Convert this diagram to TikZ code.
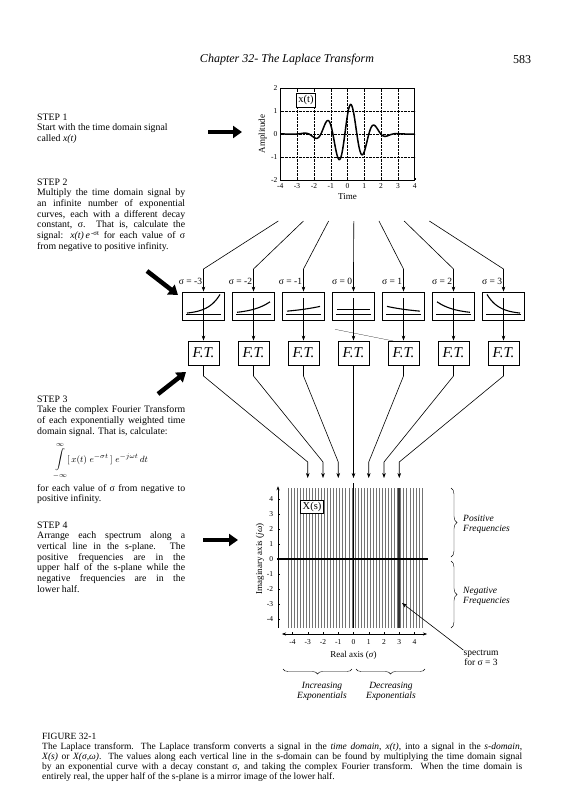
\documentclass[tikz,border=0pt]{standalone}
\usepackage{fontspec}
\setmainfont{Liberation Serif}
\usetikzlibrary{arrows.meta,decorations.pathreplacing}

\newcommand{\jline}[2]{\makebox[#1][s]{#2}}

\tikzset{
  steptext/.style={anchor=north west, align=left, inner sep=0pt, font=\fontsize{9.8}{10.7}\selectfont},
  captext/.style={anchor=north west, align=left, inner sep=0pt, font=\fontsize{9.5}{10}\selectfont},
  bigarrow/.style={line width=4.5pt, -{Triangle[length=9pt,width=12pt]}},
  feed/.style={semithick, -{Stealth[length=5pt,width=3.6pt]}},
  expbox/.style={draw, semithick, minimum width=41.5pt, minimum height=28.3pt, inner sep=0pt},
  ftbox/.style={draw, semithick, minimum width=31pt, minimum height=24.3pt, inner sep=0pt, font=\itshape\fontsize{15}{15}\selectfont},
  siglabel/.style={anchor=east, inner sep=1.2pt, font=\fontsize{9.5}{10}\selectfont},
  ticklbl/.style={inner sep=1pt, font=\fontsize{7.5}{8}\selectfont},
  axislbl/.style={inner sep=0pt, font=\fontsize{9}{10}\selectfont},
  sidelbl/.style={inner sep=0pt, align=left, font=\itshape\fontsize{9.5}{10}\selectfont},
  intlimit/.style={inner sep=0pt, font=\fontsize{7}{7}\selectfont},
  spectrum/.style={black!55, line width=0.8pt},
}

\begin{document}
\begin{tikzpicture}[x=1pt, y=-1pt]
  \useasboundingbox (0,0) rectangle (564,800);
  \fill[white] (0,0) rectangle (564,800);

  % Running head
  \node[font=\itshape\fontsize{12}{12}\selectfont] (runhead) at (287,60) {Chapter 32- The Laplace Transform};
  \node[font=\fontsize{12}{12}\selectfont] (pagenum) at (522,60) {583};

  % Step texts
  \node[steptext] (step1) at (37,113.5) {STEP 1\\Start with the time domain signal\\called \textit{x(t)}};
  \node[steptext] (step2) at (37,178.5) {STEP 2\\
    \jline{148pt}{Multiply the time domain signal by}\\
    \jline{148pt}{an infinite number of exponential}\\
    \jline{148pt}{curves, each with a different decay}\\
    \jline{148pt}{constant, σ. That is, calculate the}\\
    \jline{148pt}{signal: \textit{x(t)\,e}\textsuperscript{\,-σt} for each value of σ}\\
    from negative to positive infinity.};
  \node[steptext] (step3) at (37,395.5) {STEP 3\\
    \jline{148pt}{Take the complex Fourier Transform}\\
    \jline{148pt}{of each exponentially weighted time}\\
    domain signal. That is, calculate:};
  % Fourier integral, sign and limits set apart
  \node[inner sep=0pt, font=\fontsize{10.5}{12}\selectfont] (intsign) at (60,460) {$\displaystyle\int$};
  \node[intlimit] (uplim) at (60,445) {$\infty$};
  \node[intlimit] (lolim) at (60,475.5) {$-\infty$};
  \node[anchor=west, inner sep=0pt, font=\fontsize{9.5}{11}\selectfont] (integrand) at (67,459)
    {$[\,x(t)\; e^{-\sigma t}\,]\; e^{-j\omega t}\,dt$};
  \node[steptext] (step3b) at (37,484) {\jline{148pt}{for each value of σ from negative to}\\
    positive infinity.};
  \node[steptext] (step4) at (37,521.5) {STEP 4\\
    \jline{148pt}{Arrange each spectrum along a}\\
    \jline{148pt}{vertical line in the s-plane. The}\\
    \jline{148pt}{positive frequencies are in the}\\
    \jline{148pt}{upper half of the s-plane while the}\\
    \jline{148pt}{negative frequencies are in the}\\
    lower half.};

  % Pointer arrows from the text
  \coordinate (s1tail) at (208,132);
  \coordinate (s1head) at (242,132);
  \coordinate (s2tail) at (147,271);
  \coordinate (s2head) at (178,295);
  \coordinate (s3tail) at (158,394);
  \coordinate (s3head) at (186,372);
  \coordinate (s4tail) at (203,540);
  \coordinate (s4head) at (238,540);
  \draw[bigarrow] (s1tail) -- (s1head);
  \draw[bigarrow] (s2tail) -- (s2head);
  \draw[bigarrow] (s3tail) -- (s3head);
  \draw[bigarrow] (s4tail) -- (s4head);

  % Time domain signal x(t)
  \begin{scope}[shift={(347.5,134)}, x=16.8pt, y=23pt]
    \foreach \tm in {-3,...,3}
      \draw[densely dotted] (\tm,-2) -- (\tm,2);
    \foreach \amp in {-1,0,1}
      \draw[densely dotted] (-4,\amp) -- (4,\amp);
    \draw[semithick] (-4,-2) rectangle (4,2);
    \foreach \tm in {-4,...,4} {
      \draw (\tm,-2) -- (\tm,-1.9);
      \node[ticklbl, anchor=north] at (\tm,-2.1) {\tm};
    }
    \foreach \amp in {-2,...,2} {
      \draw (-4,\amp) -- (-3.85,\amp);
      \node[ticklbl, anchor=east] at (-4.1,\amp) {\amp};
    }
    \draw[line width=1.5pt, domain=-4:4, samples=200]
      plot (\x, {1.3*exp(-((\x-0.05)/1.4)*((\x-0.05)/1.4))*cos(deg(4.4*(\x-0.2)))});
    \node[draw, fill=white, inner sep=2pt, font=\fontsize{10.5}{11}\selectfont] (xtbox) at (-2.47,1.47) {x(t)};
    \node[axislbl, rotate=90] (amplbl) at (-5.05,0) {Amplitude};
    \node[axislbl] (timelbl) at (0,-2.7) {Time};
  \end{scope}

  % Exponential weights and Fourier transforms
  \foreach \i in {0,...,6} {
    \pgfmathtruncatemacro\sg{\i-3}
    \pgfmathsetmacro\cx{203.5+50*\i}
    \pgfmathsetmacro\kk{-0.46*\sg}
    \coordinate (fantop\i) at (278.3+25.17*\i,221);
    \coordinate (fanknee\i) at (\cx,269);
    \node[expbox] (eb\i) at (\cx,306) {};
    \node[ftbox] (ftb\i) at (\cx,353) {F.T.};
    \node[siglabel] (sig\i) at (\cx,281) {σ = \sg};
    \draw[feed] (fantop\i) -- (fanknee\i) -- (eb\i.north);
    \draw[feed] (eb\i.south) -- (ftb\i.north);
    \draw[thin] (\cx-17.5,314.3) -- (\cx+17.5,314.3);
    \draw[thin] (\cx,298) -- (\cx,319.5);
    \draw[line width=1.1pt, domain=-1:1, samples=25]
      plot ({\cx+16.5*\x},{314.3-5*exp(\kk*\x)});
  }
  \coordinate (straystart) at (335,329.3);
  \coordinate (strayend) at (393.3,341);
  \draw[very thin] (straystart) -- (strayend);

  % Spectra into the s-plane
  \foreach \i in {0,...,6} {
    \pgfmathsetmacro\cx{203.5+50*\i}
    \pgfmathsetmacro\px{353.5+15.25*(\i-3)}
    \coordinate (lowknee\i) at (\cx,376);
    \coordinate (spknee\i) at (\px,462);
    \coordinate (sptip\i) at (\px,478);
    \draw[feed] (ftb\i.south) -- (lowknee\i) -- (spknee\i) -- (sptip\i);
  }

  % s-plane X(s)
  \begin{scope}[shift={(353.5,559)}, x=15.25pt, y=15pt]
    \foreach \kk in {0,...,44}
      \draw[spectrum] (-4.3+0.2*\kk,-4.6) -- (-4.3+0.2*\kk,4.73);
    \draw[line width=2.4pt, black!80] (3,-4.6) -- (3,4.73);
    \draw[line width=1.2pt] (0,-4.6) -- (0,5.1);
    \draw[line width=1.3pt] (-5.02,0) -- (4.89,0);
    \draw[-{Stealth[length=4pt,width=3pt]}] (-4.95,-4.6) -- (-4.95,4.85);
    \foreach \w in {-4,...,4} {
      \draw (-4.95,\w) -- (-4.8,\w);
      \node[ticklbl, anchor=east] at (-5.2,\w) {\w};
    }
    \draw[{Stealth[length=4pt,width=3pt]}-{Stealth[length=4pt,width=3pt]}] (-4.69,-5) -- (4.82,-5);
    \foreach \sg in {-4,...,4} {
      \draw (\sg,-5) -- (\sg,-4.85);
      \node[ticklbl, anchor=north] at (\sg,-5.3) {\sg};
    }
    \node[draw, fill=white, inner sep=2pt, font=\fontsize{10.5}{11}\selectfont] (xsbox) at (-2.72,3.49) {X(s)};
    \node[axislbl, rotate=90] (imlbl) at (-6.13,0) {Imaginary axis (\textit{jω})};
    \node[axislbl] (relbl) at (0,-6.4) {Real axis (\textit{σ})};
  \end{scope}

  % Frequency halves
  \draw[decorate, decoration={brace, amplitude=6pt}] (451,488) -- (451,557);
  \draw[decorate, decoration={brace, amplitude=6pt}] (451,561) -- (451,628);
  \node[sidelbl, anchor=west] (posfreq) at (463,524) {Positive\\Frequencies};
  \node[sidelbl, anchor=west] (negfreq) at (463,596) {Negative\\Frequencies};

  % Exponential types
  \draw[decorate, decoration={brace, amplitude=5pt}] (352,669) -- (283,669);
  \draw[decorate, decoration={brace, amplitude=5pt}] (425,669) -- (356,669);
  \node[sidelbl, align=center] (incexp) at (322,691) {Increasing\\Exponentials};
  \node[sidelbl, align=center] (decexp) at (391,691) {Decreasing\\Exponentials};

  % Spectrum callout
  \node[axislbl, align=center, font=\fontsize{9.5}{10}\selectfont] (speclbl) at (481,658) {spectrum\\for σ = 3};
  \coordinate (spec3) at (402,603);
  \draw[feed] (speclbl.north west) -- (spec3);

  % Caption
  \node[captext] (figcap) at (42,732.5) {FIGURE 32-1\\
    \jline{480pt}{The Laplace transform. The Laplace transform converts a signal in the \textit{time domain}, \textit{x(t)}, into a signal in the \textit{s-domain},}\\
    \jline{480pt}{\textit{X(s)} or \textit{X(σ,ω)}. The values along each vertical line in the s-domain can be found by multiplying the time domain signal}\\
    \jline{480pt}{by an exponential curve with a decay constant σ, and taking the complex Fourier transform. When the time domain is}\\
    entirely real, the upper half of the s-plane is a mirror image of the lower half.};
\end{tikzpicture}
\end{document}
